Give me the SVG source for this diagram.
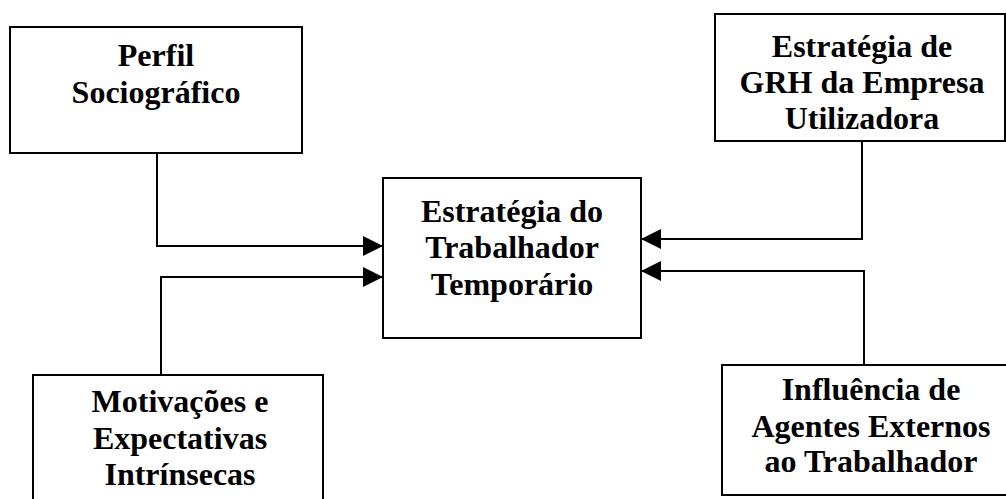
<svg xmlns="http://www.w3.org/2000/svg" width="1006" height="499" viewBox="0 0 1006 499">
<style>
.box{fill:#fff;stroke:#000;stroke-width:2}
.t{font-family:"Liberation Serif","Times New Roman",serif;font-weight:bold;font-size:32px;text-anchor:middle;fill:#000}
.c{fill:none;stroke:#000;stroke-width:2}
</style>
<defs>
<marker id="ah" markerWidth="20" markerHeight="20" refX="20" refY="10" orient="auto" markerUnits="userSpaceOnUse">
<path d="M0,0 L20,10 L0,20 Z" fill="#000"/>
</marker>
</defs>
<rect width="1006" height="499" fill="#fff"/>
<g id="connectors">
<path class="c" d="M157,153 V246 H383" marker-end="url(#ah)"/>
<path class="c" d="M161,375 V277 H383" marker-end="url(#ah)"/>
<path class="c" d="M862,141 V239 H641" marker-end="url(#ah)"/>
<path class="c" d="M864,365 V271 H641" marker-end="url(#ah)"/>
</g>
<g id="perfil">
<rect class="box" x="10" y="27" width="292" height="126"/>
<text class="t" x="156" y="66">Perfil</text>
<text class="t" x="156" y="103">Sociográfico</text>
</g>
<g id="grh">
<rect class="box" x="715" y="14" width="290" height="127"/>
<text class="t" x="862" y="57">Estratégia de</text>
<text class="t" x="862" y="93">GRH da Empresa</text>
<text class="t" x="862" y="129">Utilizadora</text>
</g>
<g id="centro">
<rect class="box" x="383" y="178" width="258" height="160"/>
<text class="t" x="512" y="222">Estratégia do</text>
<text class="t" x="512" y="258">Trabalhador</text>
<text class="t" x="512" y="295">Temporário</text>
</g>
<g id="motivacoes">
<rect class="box" x="33" y="375" width="290" height="130"/>
<text class="t" x="180" y="412">Motivações e</text>
<text class="t" x="180" y="449">Expectativas</text>
<text class="t" x="180" y="485">Intrínsecas</text>
</g>
<g id="influencia">
<rect class="box" x="722" y="365" width="290" height="130"/>
<text class="t" x="871" y="400">Influência de</text>
<text class="t" x="871" y="437">Agentes Externos</text>
<text class="t" x="871" y="472">ao Trabalhador</text>
</g>
</svg>
